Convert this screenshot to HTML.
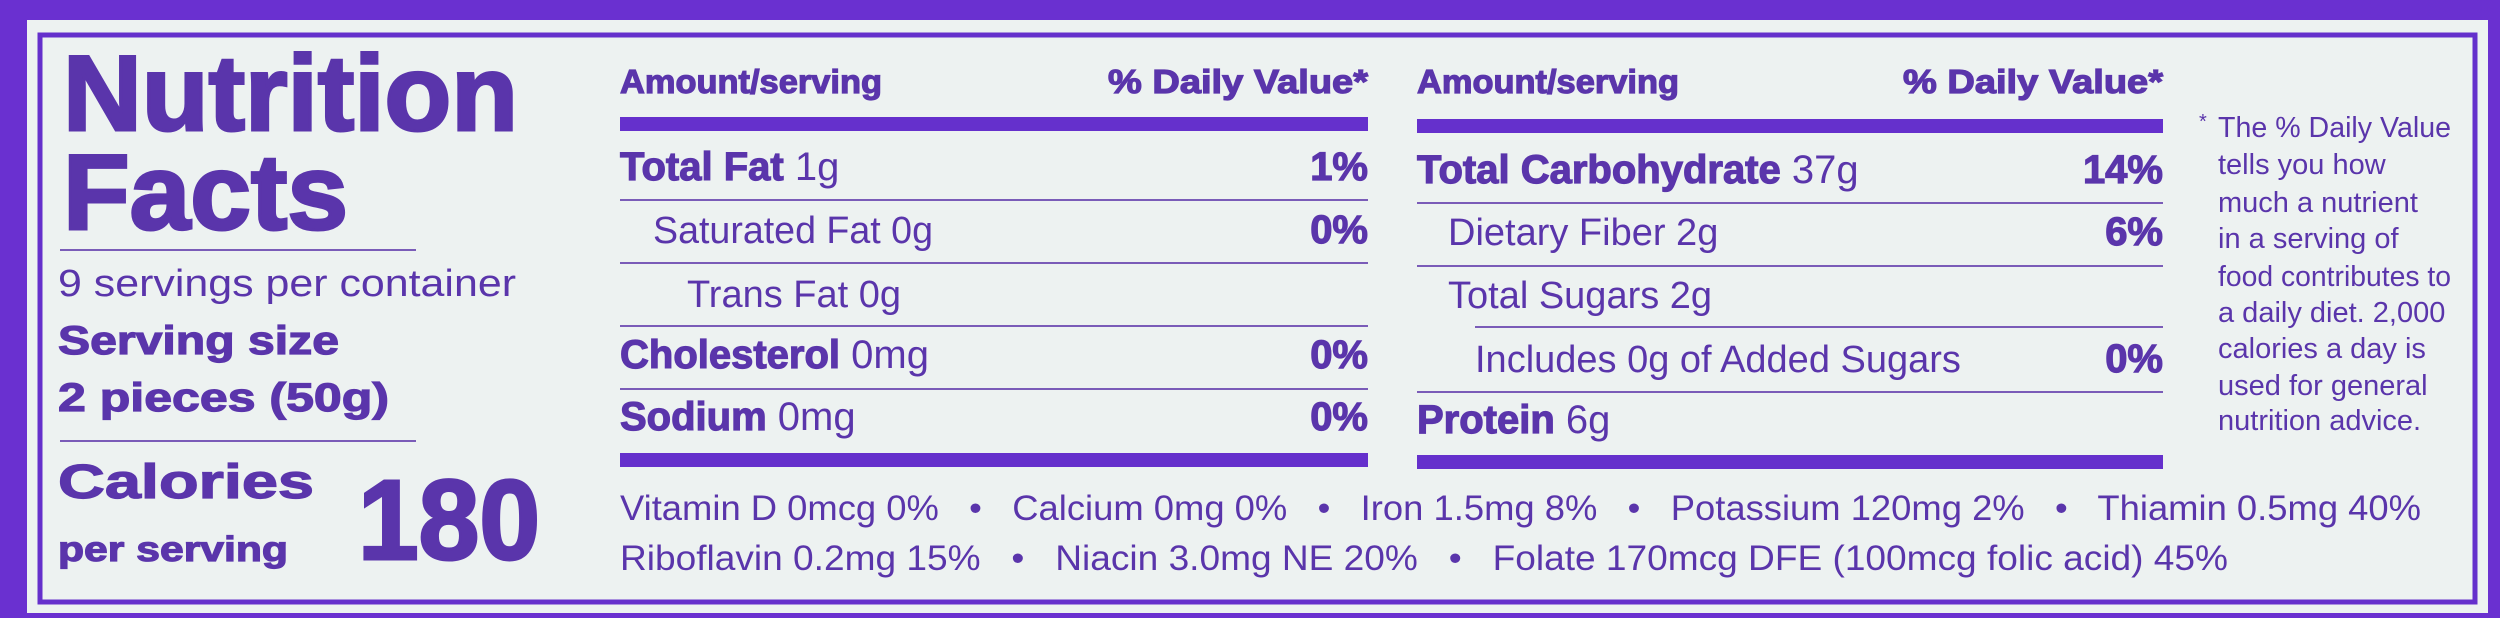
<!DOCTYPE html>
<html><head><meta charset="utf-8"><style>
html,body{margin:0;padding:0;background:#6a30d0;}
svg{display:block;}
text{font-family:"Liberation Sans",Arial,sans-serif;fill:#5a35ab;}
.b{font-weight:bold;stroke:#5a35ab;stroke-width:1.2;}
.bb{font-weight:bold;stroke:#5a35ab;stroke-width:3;}
.pre{white-space:pre;}
</style></head><body>
<svg width="2500" height="618" viewBox="0 0 2500 618" xmlns="http://www.w3.org/2000/svg">
<rect x="0" y="0" width="2500" height="618" fill="#6a30d0"/>
<rect x="27" y="20" width="2461" height="593" fill="#edf2f1"/>
<rect x="40" y="35" width="2435" height="567" fill="none" stroke="#6530cc" stroke-width="5"/>

<!-- left column -->
<text class="bb" x="63" y="130" font-size="107" textLength="455" lengthAdjust="spacingAndGlyphs">Nutrition</text>
<text class="bb" x="63" y="229" font-size="107" textLength="285" lengthAdjust="spacingAndGlyphs">Facts</text>
<rect x="60" y="249" width="356" height="2" fill="#7a5cb8"/>
<text x="58" y="296" font-size="38" textLength="458" lengthAdjust="spacingAndGlyphs">9 servings per container</text>
<text class="b" x="58" y="354" font-size="40" textLength="281" lengthAdjust="spacingAndGlyphs">Serving size</text>
<text class="b" x="58" y="411" font-size="40" textLength="331" lengthAdjust="spacingAndGlyphs">2 pieces (50g)</text>
<rect x="60" y="440" width="356" height="2" fill="#7a5cb8"/>
<text class="b" x="58" y="498" font-size="48" textLength="256" lengthAdjust="spacingAndGlyphs">Calories</text>
<text class="b" x="58" y="561" font-size="35" textLength="230" lengthAdjust="spacingAndGlyphs">per serving</text>
<text class="bb" x="358" y="559" font-size="113" textLength="182" lengthAdjust="spacingAndGlyphs">180</text>

<!-- middle column -->
<text class="b" x="620" y="93" font-size="33" textLength="262" lengthAdjust="spacingAndGlyphs">Amount/serving</text>
<text class="b" x="1108" y="93" font-size="33" textLength="260" lengthAdjust="spacingAndGlyphs">% Daily Value*</text>
<rect x="620" y="117" width="748" height="14" fill="#6530cc"/>
<text x="620" y="180" font-size="40"><tspan class="b">Total Fat</tspan> 1g</text>
<text class="b" x="1368" y="180" font-size="40" text-anchor="end">1%</text>
<rect x="620" y="199" width="748" height="2" fill="#7a5cb8"/>
<text x="653" y="243" font-size="38" textLength="280" lengthAdjust="spacingAndGlyphs">Saturated Fat 0g</text>
<text class="b" x="1368" y="243" font-size="40" text-anchor="end">0%</text>
<rect x="620" y="262" width="748" height="2" fill="#7a5cb8"/>
<text x="687" y="307" font-size="38">Trans Fat 0g</text>
<rect x="620" y="325" width="748" height="2" fill="#7a5cb8"/>
<text x="620" y="368" font-size="40"><tspan class="b">Cholesterol</tspan> 0mg</text>
<text class="b" x="1368" y="368" font-size="40" text-anchor="end">0%</text>
<rect x="620" y="388" width="748" height="2" fill="#7a5cb8"/>
<text x="620" y="430" font-size="40"><tspan class="b">Sodium</tspan> 0mg</text>
<text class="b" x="1368" y="430" font-size="40" text-anchor="end">0%</text>
<rect x="620" y="453" width="748" height="14" fill="#6530cc"/>

<!-- right column -->
<text class="b" x="1417" y="93" font-size="33" textLength="262" lengthAdjust="spacingAndGlyphs">Amount/serving</text>
<text class="b" x="1903" y="93" font-size="33" textLength="260" lengthAdjust="spacingAndGlyphs">% Daily Value*</text>
<rect x="1417" y="119" width="746" height="14" fill="#6530cc"/>
<text x="1417" y="183" font-size="40"><tspan class="b">Total Carbohydrate</tspan> 37g</text>
<text class="b" x="2163" y="183" font-size="40" text-anchor="end">14%</text>
<rect x="1417" y="202" width="746" height="2" fill="#7a5cb8"/>
<text x="1448" y="245" font-size="38">Dietary Fiber 2g</text>
<text class="b" x="2163" y="245" font-size="40" text-anchor="end">6%</text>
<rect x="1417" y="265" width="746" height="2" fill="#7a5cb8"/>
<text x="1448" y="308" font-size="38">Total Sugars 2g</text>
<rect x="1475" y="326" width="688" height="2" fill="#7a5cb8"/>
<text x="1475" y="372" font-size="38">Includes 0g of Added Sugars</text>
<text class="b" x="2163" y="372" font-size="40" text-anchor="end">0%</text>
<rect x="1417" y="391" width="746" height="2" fill="#7a5cb8"/>
<text x="1417" y="433" font-size="40"><tspan class="b">Protein</tspan> 6g</text>
<rect x="1417" y="455" width="746" height="14" fill="#6530cc"/>

<!-- footnote -->
<text x="2199" y="128" font-size="20">*</text>
<g font-size="29">
<text x="2218" y="137" textLength="233" lengthAdjust="spacingAndGlyphs">The % Daily Value</text>
<text x="2218" y="174">tells you how</text>
<text x="2218" y="212">much a nutrient</text>
<text x="2218" y="248">in a serving of</text>
<text x="2218" y="286" textLength="233" lengthAdjust="spacingAndGlyphs">food contributes to</text>
<text x="2218" y="322">a daily diet. 2,000</text>
<text x="2218" y="358">calories a day is</text>
<text x="2218" y="395">used for general</text>
<text x="2218" y="430">nutrition advice.</text>
</g>

<!-- vitamins -->
<text class="pre" x="620" y="520" font-size="35" textLength="1801" lengthAdjust="spacingAndGlyphs">Vitamin D 0mcg 0%   •   Calcium 0mg 0%   •   Iron 1.5mg 8%   •   Potassium 120mg 2%   •   Thiamin 0.5mg 40%</text>
<text class="pre" x="620" y="570" font-size="35" textLength="1608" lengthAdjust="spacingAndGlyphs">Riboflavin 0.2mg 15%   •   Niacin 3.0mg NE 20%   •   Folate 170mcg DFE (100mcg folic acid) 45%</text>
</svg>
</body></html>
